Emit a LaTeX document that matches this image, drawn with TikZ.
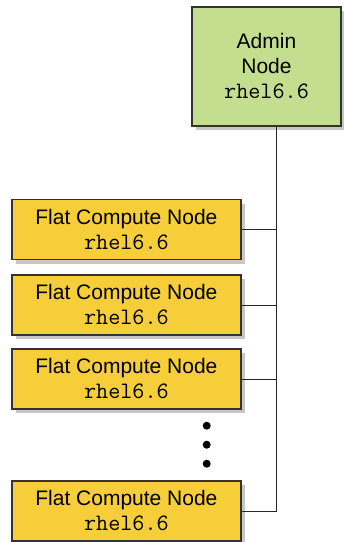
\documentclass[tikz,border=0pt]{standalone}
\usepackage{fontspec}
\setmainfont{Liberation Sans}
\newcommand\codefont{\fontsize{23.5}{25}\ttfamily}
\usetikzlibrary{shadows}
\definecolor{admingreen}{RGB}{194,222,142}
\definecolor{computeyellow}{RGB}{245,206,58}
\tikzset{
	boxshadow/.style={drop shadow={shadow xshift=4pt, shadow yshift=-4pt, fill=black!22, opacity=1}},
	adminbox/.style={draw=black!80, line width=1.2pt, fill=admingreen, boxshadow, minimum width=149pt, minimum height=119pt, align=center, inner sep=0pt},
	computebox/.style={draw=black!80, line width=1.2pt, fill=computeyellow, boxshadow, minimum width=229pt, minimum height=60pt, align=center, inner sep=0pt},
	wire/.style={line width=1pt, color=black!85}
}
\begin{document}
\begin{tikzpicture}[x=1pt, y=-1pt, font=\fontsize{21}{25}\selectfont]
			%%%%% START %%%%%
			
			\useasboundingbox (0, 0) rectangle (344, 542);
			
			\node[adminbox] (admin) at (266.5, 66.5) {Admin\\Node\\{\codefont rhel6.6}};
			
			\node[computebox] (cn1) at (126.4, 229.5) {Flat Compute Node\\{\codefont rhel6.6}};
			\node[computebox] (cn2) at (126.4, 305) {Flat Compute Node\\{\codefont rhel6.6}};
			\node[computebox] (cn3) at (126.4, 379) {Flat Compute Node\\{\codefont rhel6.6}};
			\node[computebox] (cn4) at (126.4, 511) {Flat Compute Node\\{\codefont rhel6.6}};
			
			\coordinate (bus) at (276.7, 511);
			
			\draw[wire] (admin.south -| bus) -- (bus) -- (cn4.east);
			\foreach \i in {1,2,3}
				\draw[wire] (cn\i.east) -- (cn\i.east -| bus);
			
			\foreach \y in {425.7, 444.7, 463.7}
				\fill (206.7, \y) circle (4);
			
			%%%%% END %%%%%
\end{tikzpicture}
\end{document}
